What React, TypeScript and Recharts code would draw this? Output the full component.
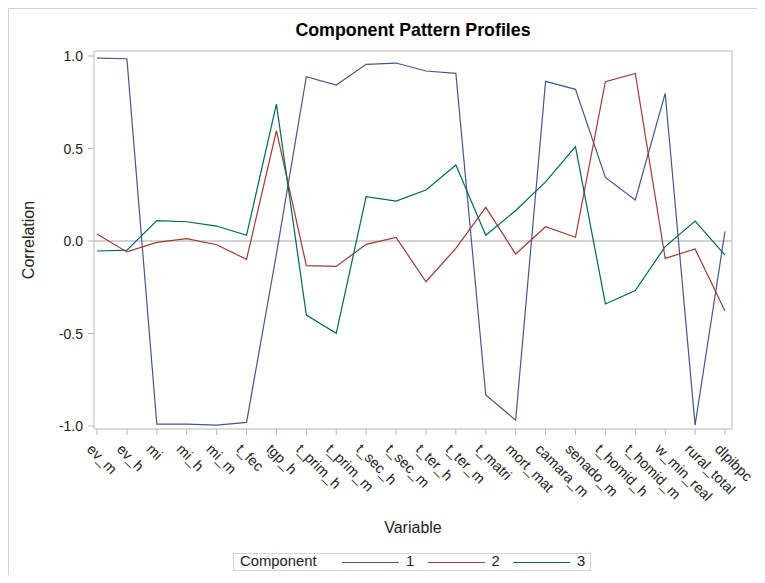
import React from 'react';
import { LineChart, Line, XAxis, YAxis, ReferenceLine } from 'recharts';

const categories = ['ev_m', 'ev_h', 'mi', 'mi_h', 'mi_m', 't_fec', 'tgp_h', 't_prim_h', 't_prim_m', 't_sec_h', 't_sec_m', 't_ter_h', 't_ter_m', 't_matri', 'mort_mat', 'camara_m', 'senado_m', 't_homid_h', 't_homid_m', 'w_min_real', 'rural_total', 'dlpibpc'];
const component1 = [0.988, 0.985, -0.99, -0.99, -0.995, -0.98, -0.07, 0.888, 0.843, 0.955, 0.962, 0.919, 0.906, -0.832, -0.968, 0.863, 0.82, 0.344, 0.222, 0.798, -0.995, 0.052];
const component2 = [0.038, -0.059, -0.007, 0.013, -0.02, -0.099, 0.596, -0.133, -0.137, -0.018, 0.02, -0.22, -0.04, 0.182, -0.07, 0.077, 0.02, 0.861, 0.906, -0.094, -0.043, -0.378];
const component3 = [-0.054, -0.049, 0.11, 0.104, 0.081, 0.031, 0.74, -0.4, -0.499, 0.24, 0.216, 0.276, 0.411, 0.031, 0.165, 0.32, 0.51, -0.34, -0.268, -0.03, 0.108, -0.076];
const yTicks = [-1, -0.5, 0, 0.5, 1];
const seriesNames = ['1', '2', '3'];
const seriesColors = ['#445694', '#A23A2E', '#01665E'];

const data = categories.map((c, i) => ({
  variable: c,
  c1: component1[i],
  c2: component2[i],
  c3: component3[i],
}));

const FONT = '"Liberation Sans", Arial, sans-serif';
const FRAME = '#b4b8bc';
const TOP = 51;
const BOTTOM_AXIS = 154;
const LEFT_AXIS = 94;
const RIGHT = 33;

const XTick = (props: any) => {
  const { x, y, payload } = props;
  const ax = x - 11;
  const ay = y + 15;
  return (
    <text x={ax} y={ay} transform={`rotate(45 ${ax} ${ay})`} textAnchor="start" fontSize={14.4} fill="#222" fontFamily={FONT}>
      {payload.value}
    </text>
  );
};

const YTick = (props: any) => {
  const { x, y, payload } = props;
  return (
    <text x={x} y={y + 5} textAnchor="end" fontSize={14} fill="#222" fontFamily={FONT}>
      {Number(payload.value).toFixed(1)}
    </text>
  );
};

export default function App() {
  return (
    <div style={{ position: 'relative', width: 765, height: 583, margin: -8, overflow: 'hidden', background: '#fff' }}>
      <div style={{ position: 'absolute', left: 94, width: 638, top: 20, textAlign: 'center', fontFamily: FONT, fontWeight: 'bold', fontSize: 17.8, color: '#000', whiteSpace: 'nowrap' }}>
        Component Pattern Profiles
      </div>
      <div style={{ position: 'absolute', left: 0, top: 0 }}>
        <LineChart width={765} height={583} data={data} margin={{ top: TOP - 1, right: RIGHT - 1, bottom: 0, left: 0 }}>
          <XAxis
            dataKey="variable"
            height={BOTTOM_AXIS}
            interval={0}
            padding={{ left: 3, right: 7 }}
            tickSize={6}
            tickMargin={0}
            stroke={FRAME}
            tick={<XTick />}
            label={{ value: 'Variable', position: 'bottom', offset: 0, content: (p: any) => (
              <text x={p.viewBox.x + p.viewBox.width / 2} y={533} textAnchor="middle" fontSize={16} fill="#222" fontFamily={FONT}>Variable</text>
            ) }}
          />
          <XAxis xAxisId="top" dataKey="variable" orientation="top" height={1} tick={false} tickLine={false} stroke={FRAME} />
          <YAxis
            width={LEFT_AXIS}
            domain={[-1.016, 1.027]}
            ticks={yTicks}
            tickSize={6}
            tickMargin={5}
            stroke={FRAME}
            tick={<YTick />}
            allowDataOverflow
            label={{ value: 'Correlation', content: (p: any) => (
              <text x={34} y={p.viewBox.y + p.viewBox.height / 2} transform={`rotate(-90 34 ${p.viewBox.y + p.viewBox.height / 2})`} textAnchor="middle" fontSize={16} fill="#222" fontFamily={FONT}>Correlation</text>
            ) }}
          />
          <YAxis yAxisId="right" orientation="right" width={1} domain={[-1.016, 1.027]} tick={false} tickLine={false} stroke={FRAME} />
          <ReferenceLine y={0} stroke="#a8a8a8" strokeWidth={1.2} />
          <Line dataKey="c1" name={seriesNames[0]} stroke={seriesColors[0]} strokeWidth={1.2} dot={false} isAnimationActive={false} />
          <Line dataKey="c2" name={seriesNames[1]} stroke={seriesColors[1]} strokeWidth={1.2} dot={false} isAnimationActive={false} />
          <Line dataKey="c3" name={seriesNames[2]} stroke={seriesColors[2]} strokeWidth={1.2} dot={false} isAnimationActive={false} />
        </LineChart>
      </div>
      <div style={{ position: 'absolute', left: 7, top: 7, width: 800, height: 600, borderLeft: '2px solid #d4d4d4', borderTop: '2px solid #d4d4d4', pointerEvents: 'none' }} />
      <div style={{ position: 'absolute', left: 233, top: 553, width: 358, height: 18, border: '1px solid #d4d4d4', boxSizing: 'border-box', fontFamily: FONT, fontSize: 14.8, color: '#222' }}>
        <span style={{ position: 'absolute', left: 6, top: -1.5 }}>Component</span>
        {seriesNames.map((n, i) => (
          <React.Fragment key={n}>
            <span style={{ position: 'absolute', left: 108 + i * 85.5, top: 8, width: 57, height: 0, borderTop: `1.2px solid ${seriesColors[i]}` }} />
            <span style={{ position: 'absolute', left: 172 + i * 85.5, top: -1.5 }}>{n}</span>
          </React.Fragment>
        ))}
      </div>
    </div>
  );
}
